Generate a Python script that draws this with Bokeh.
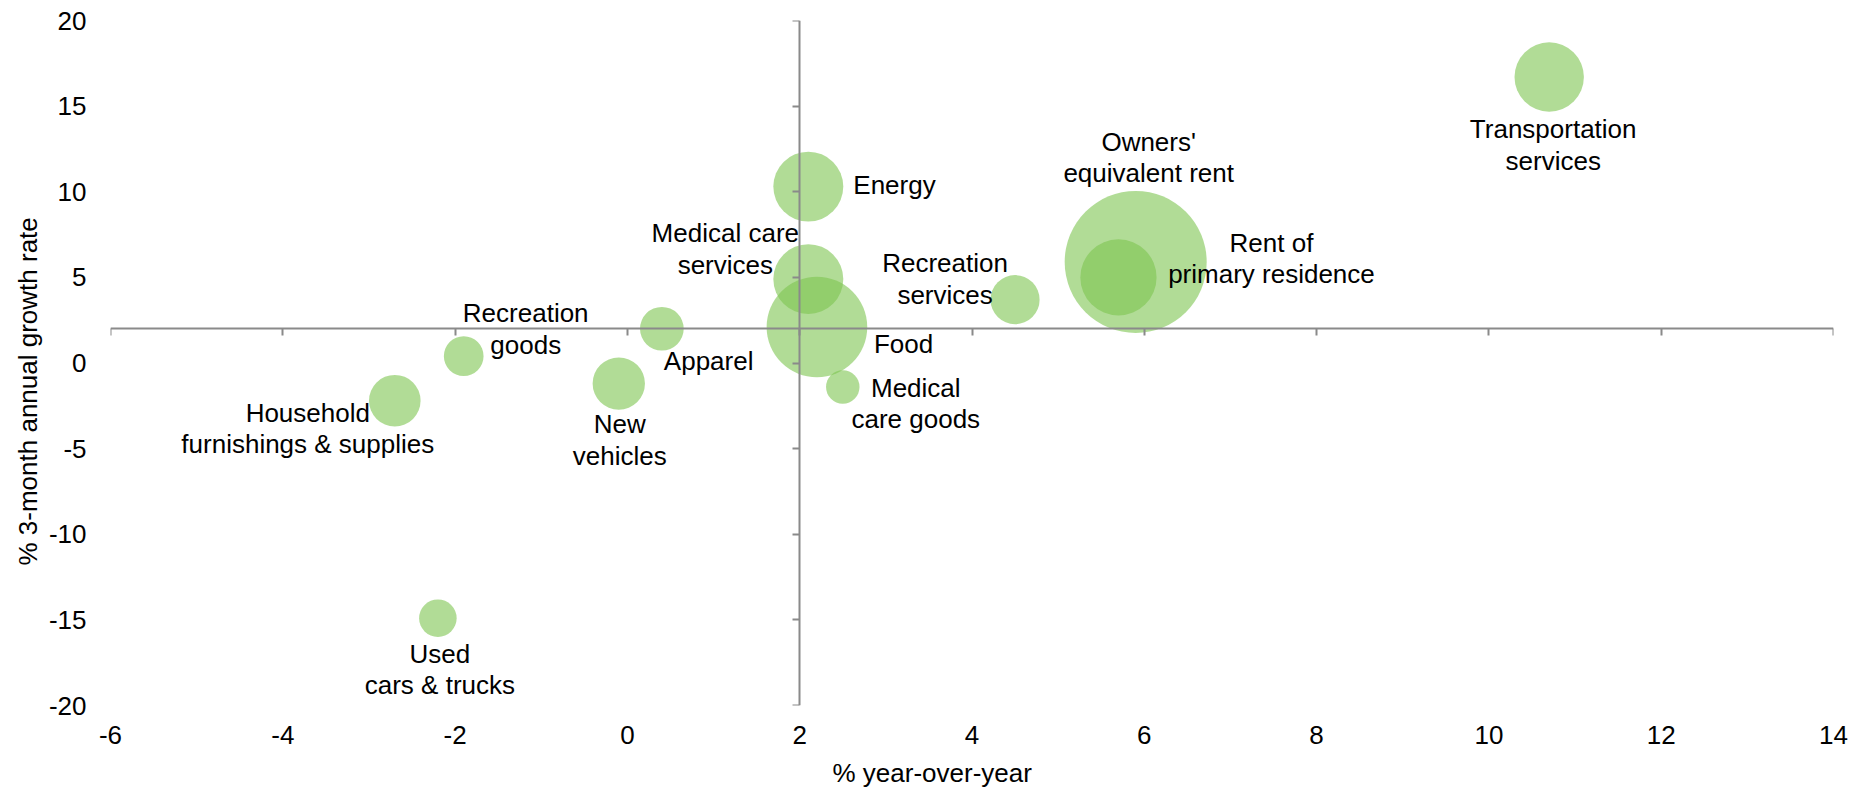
from bokeh.plotting import figure
from bokeh.models import (LinearAxis, FixedTicker, Range1d, Title, CustomJSTickFormatter,
                          ColumnDataSource)
from bokeh.core.properties import value
from bokeh.embed import file_html
from bokeh.resources import INLINE
import numpy as np

# ---------------- data ----------------
categories = ["Owners' equivalent rent", "Food", "Rent of primary residence", "Energy",
              "Medical care services", "Transportation services", "New vehicles",
              "Household furnishings & supplies", "Recreation services", "Apparel",
              "Recreation goods", "Used cars & trucks", "Medical care goods"]
label_text = ["Owners'\nequivalent rent", "Food", "Rent of\nprimary residence", "Energy",
              "Medical care\nservices", "Transportation\nservices", "New\nvehicles",
              "Household\nfurnishings & supplies", "Recreation\nservices", "Apparel",
              "Recreation\ngoods", "Used\ncars & trucks", "Medical\ncare goods"]
yoy = [5.9, 2.2, 5.7, 2.1, 2.1, 10.7, -0.1, -2.7, 4.5, 0.4, -1.9, -2.2, 2.5]
ann3m = [5.9, 2.1, 5.0, 10.3, 4.9, 16.7, -1.2, -2.2, 3.7, 2.0, 0.4, -14.9, -1.4]
weight = [24.3, 12.2, 7.0, 5.9, 5.9, 5.8, 3.3, 3.2, 2.9, 2.3, 1.9, 1.7, 1.35]
x_ticks = [-6, -4, -2, 0, 2, 4, 6, 8, 10, 12, 14]
y_ticks = [-20, -15, -10, -5, 0, 5, 10, 15, 20]
x_title = "% year-over-year"
y_title = "% 3-month annual growth rate"

# ---------------- layout / style ----------------
W, H = 1871, 796
BL, BR, BT, BB = 110, 38, 20, 88
FW, FH = W - BL - BR, H - BT - BB
X0, X1, Y0, Y1 = -6, 14, -20, 20
CROSS_X, CROSS_Y = 2, 2
MAX_D = 142
FONT = "Liberation Sans"
FS = "26px"
AXIS_COL = "#8a8a8a"

# label offsets in screen px (dx right, dy down) and alignment
label_dx = [13, 57, 153, 45, -83, 4, 1, -87, -70, 2, 62, 2, 73]
label_dy = [-105, 17, -19, -2, -30, 68, 57, 28, -21, 32.5, -27.5, 51.5, 16.5]
label_align = ["center", "left", "center", "left", "center", "center", "center",
               "center", "center", "left", "center", "center", "center"]

pxx = FW / (X1 - X0)
pxy = FH / (Y1 - Y0)

sizes = [MAX_D * np.sqrt(w / max(weight)) for w in weight]
lx = [x + dx / pxx for x, dx in zip(yoy, label_dx)]
ly = [y - dy / pxy for y, dy in zip(ann3m, label_dy)]

src = ColumnDataSource(dict(x=yoy, y=ann3m, size=sizes, name=categories))

p = figure(width=W, height=H, x_range=Range1d(X0, X1), y_range=Range1d(Y0, Y1),
           output_backend="svg", toolbar_location=None,
           min_border_left=BL, min_border_right=BR, min_border_top=BT, min_border_bottom=BB)
p.outline_line_color = None
p.grid.visible = False
p.background_fill_color = "white"
p.border_fill_color = "white"

p.scatter("x", "y", size="size", source=src, fill_color=(125, 196, 80), fill_alpha=0.6,
          line_color=None)

# edge axes: labels only (hyphen-minus as in the reference)
plain = CustomJSTickFormatter(code="return String(tick)")
for ax in (p.xaxis[0], p.yaxis[0]):
    ax.axis_line_color = None
    ax.major_tick_line_color = None
    ax.minor_tick_line_color = None
    ax.major_tick_out = 0
    ax.major_tick_in = 0
    ax.major_label_text_font = FONT
    ax.major_label_text_font_size = FS
    ax.major_label_text_color = "black"
    ax.formatter = plain
p.xaxis[0].ticker = FixedTicker(ticks=x_ticks)
p.yaxis[0].ticker = FixedTicker(ticks=y_ticks)
p.xaxis[0].major_label_standoff = 20
p.yaxis[0].major_label_standoff = 24

# crossing axes at (2, 2)
blank = CustomJSTickFormatter(code="return ''")
hx = LinearAxis(fixed_location=CROSS_Y, ticker=FixedTicker(ticks=x_ticks), formatter=blank)
vy = LinearAxis(fixed_location=CROSS_X, ticker=FixedTicker(ticks=y_ticks), formatter=blank)
for ax in (hx, vy):
    ax.axis_line_color = AXIS_COL
    ax.axis_line_width = 2
    ax.major_tick_line_color = AXIS_COL
    ax.major_tick_line_width = 2
    ax.major_tick_out = 7
    ax.major_tick_in = 0
    ax.minor_tick_line_color = None
p.add_layout(hx, "below")
p.add_layout(vy, "left")

# bubble labels
for al in ("left", "center"):
    idx = [i for i, a in enumerate(label_align) if a == al]
    lsrc = ColumnDataSource(dict(x=[lx[i] for i in idx], y=[ly[i] for i in idx],
                                 t=[label_text[i] for i in idx]))
    p.text("x", "y", text="t", source=lsrc, text_align=al, text_baseline="middle",
           text_font=value(FONT), text_font_size=FS, text_color="black", text_line_height=1.06)

# axis titles as side titles (placed off-centre as in the reference)
xt = Title(text=x_title, align="left", offset=722, standoff=18, text_font=FONT,
           text_font_size=FS, text_font_style="normal", text_color="black")
yt = Title(text=y_title, align="left", offset=140, standoff=5, text_font=FONT,
           text_font_size=FS, text_font_style="normal", text_color="black")
p.add_layout(xt, "below")
p.add_layout(yt, "left")

open("out.html", "w").write(file_html(p, INLINE))
